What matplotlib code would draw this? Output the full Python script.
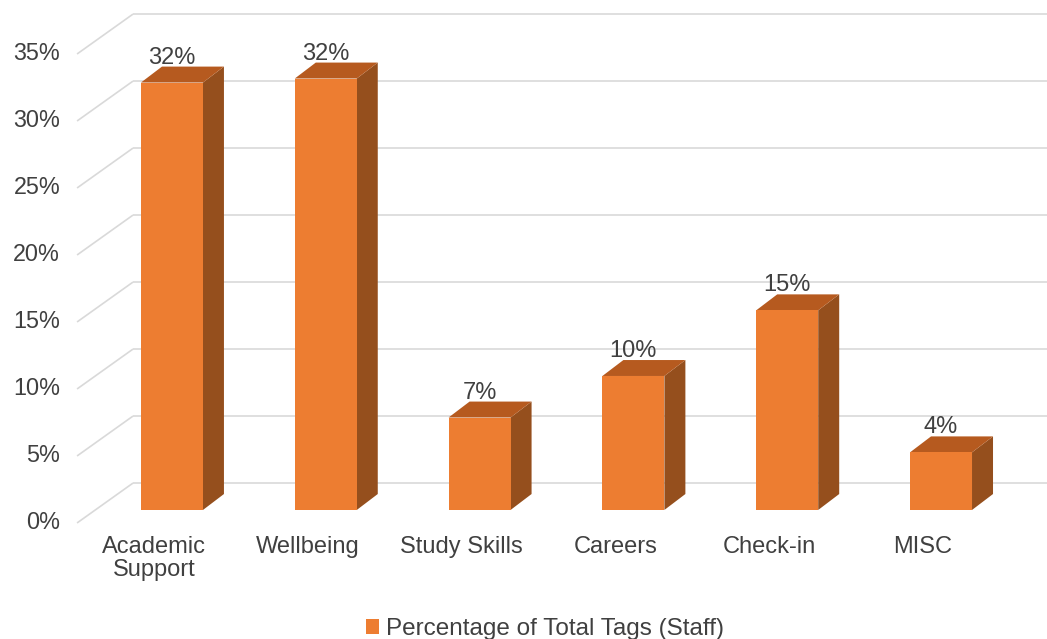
import matplotlib.pyplot as plt
from matplotlib.patches import Polygon, Patch

categories = ['Academic\nSupport', 'Wellbeing', 'Study Skills', 'Careers', 'Check-in', 'MISC']
values = [31.9, 32.2, 6.9, 10.0, 14.9, 4.3]
yticks = [0, 5, 10, 15, 20, 25, 30, 35]
series_name = 'Percentage of Total Tags (Staff)'

front_col = '#ED7D31'
top_col = '#B65A1F'
side_col = '#954F1D'
grid_col = '#D9D9D9'
text_col = '#404040'

plt.rcParams['font.family'] = ['Liberation Sans', 'DejaVu Sans']

# fake 3d: offsets (in data units) of the floor front edge, bar depth and back wall
front_dx, front_dy = -0.117, -0.97
depth_dx, depth_dy = 0.1365, 1.19
back_dx, back_dy = 0.247, 2.01
bar_w = 0.403
x_left = -0.5

fig = plt.figure(figsize=(10.47, 6.39), dpi=100)
ax = fig.add_axes([0, 0, 1, 1])
ax.set_xlim(-1.118, 5.689)
ax.set_ylim(-9.63, 38.06)
ax.axis('off')

# gridlines: diagonal on the side wall, then across the back wall
for v in yticks:
    ax.plot([x_left + front_dx, x_left + back_dx], [v + front_dy, v + back_dy],
            color=grid_col, lw=1.2, zorder=1, solid_capstyle='butt')
    ax.plot([x_left + back_dx, 6.0], [v + back_dy, v + back_dy],
            color=grid_col, lw=1.2, zorder=1, solid_capstyle='butt')
    ax.text(x_left + front_dx - 0.11, v + front_dy, '%d%%' % v,
            ha='right', va='center', fontsize=16.8, color=text_col)

for i, v in enumerate(values):
    x0 = i - bar_w / 2
    x1 = i + bar_w / 2
    front = [(x0, 0), (x1, 0), (x1, v), (x0, v)]
    side = [(x1, 0), (x1 + depth_dx, depth_dy), (x1 + depth_dx, v + depth_dy), (x1, v)]
    top = [(x0, v), (x1, v), (x1 + depth_dx, v + depth_dy), (x0 + depth_dx, v + depth_dy)]
    ax.add_patch(Polygon(side, closed=True, facecolor=side_col, edgecolor='none', zorder=3))
    ax.add_patch(Polygon(top, closed=True, facecolor=top_col, edgecolor='none', zorder=3))
    ax.add_patch(Polygon(front, closed=True, facecolor=front_col, edgecolor='none', zorder=4))
    ax.text(i, v + depth_dy + 0.22, '%d%%' % round(v), ha='center', va='baseline',
            fontsize=17, color=text_col, zorder=5)
    ax.text(i + front_dx, -1.94, categories[i], ha='center', va='top',
            fontsize=17, color=text_col, linespacing=1.08)

fig.legend(handles=[Patch(facecolor=front_col, edgecolor='none', label=series_name)],
           loc='center', bbox_to_anchor=(545 / 1047, 1 - 629 / 639), frameon=False,
           fontsize=17.5, labelcolor=text_col, handlelength=0.55, handleheight=0.6,
           handletextpad=0.3, borderpad=0)

fig.savefig('out.png', dpi=100)
